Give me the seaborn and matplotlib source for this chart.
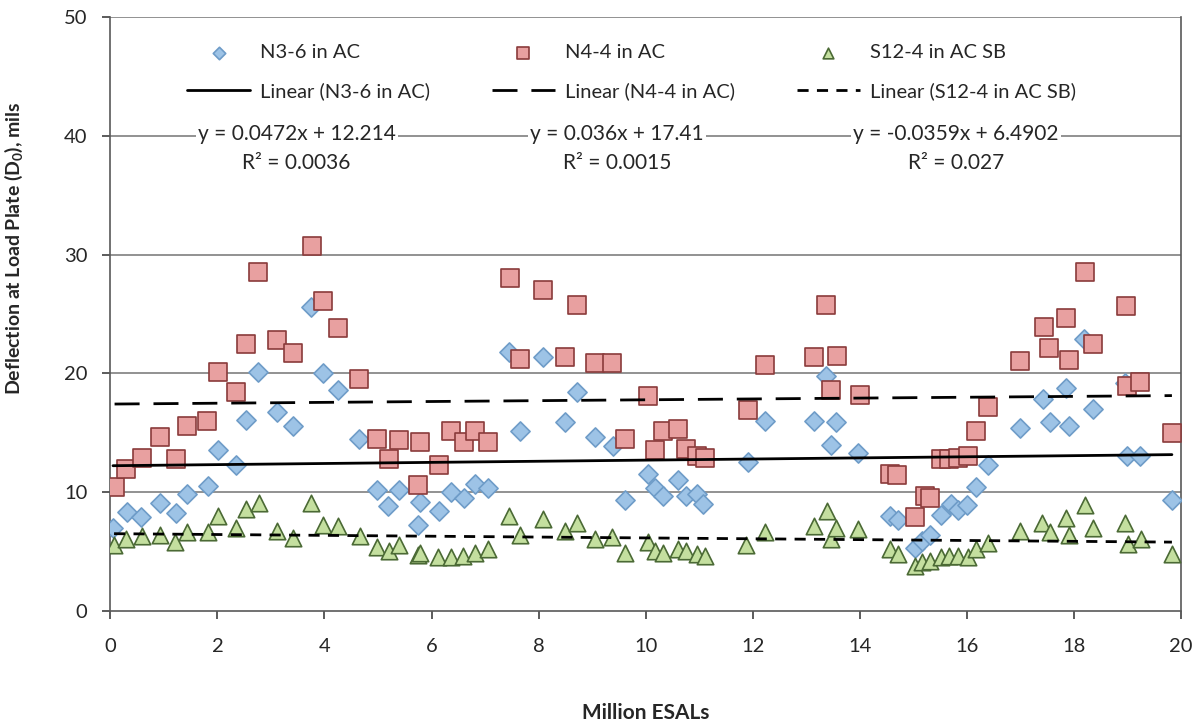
import matplotlib
matplotlib.use("Agg")
import matplotlib.pyplot as plt
import pandas as pd
import seaborn as sns

sns.set_theme(style="white")
plt.rcParams["font.family"] = ["Lato", "DejaVu Sans"]
plt.rcParams["mathtext.default"] = "regular"

# N3-6 in AC (blue diamonds)
n36_x = [0.05, 0.31, 0.58, 0.92, 1.23, 1.43, 1.82, 2.02, 2.35, 2.54, 2.75, 3.12, 3.42, 3.74,
         3.97, 4.26, 4.64, 4.98, 5.19, 5.39, 5.74, 5.78, 6.14, 6.37, 6.60, 6.82, 7.05, 7.44,
         7.66, 8.08, 8.49, 8.71, 9.05, 9.39, 9.61, 10.05, 10.18, 10.33, 10.61, 10.75, 10.95,
         11.08, 11.91, 12.22, 13.14, 13.36, 13.46, 13.56, 13.97, 14.57, 14.71, 15.04, 15.17,
         15.31, 15.51, 15.71, 15.84, 16.00, 16.17, 16.39, 16.99, 17.42, 17.56, 17.86, 17.90,
         18.19, 18.35, 18.95, 19.00, 19.23, 19.83]
n36_y = [7.0, 8.3, 7.9, 9.1, 8.2, 9.8, 10.5, 13.5, 12.3, 16.1, 20.1, 16.7, 15.6, 25.6,
         20.0, 18.6, 14.5, 10.2, 8.8, 10.2, 7.2, 9.2, 8.4, 10.0, 9.5, 10.7, 10.3, 21.8,
         15.1, 21.4, 15.9, 18.4, 14.6, 13.9, 9.3, 11.5, 10.3, 9.7, 11.0, 9.7, 9.8,
         9.0, 12.5, 16.0, 16.0, 19.8, 14.0, 15.9, 13.3, 8.0, 7.6, 5.3, 5.9,
         6.4, 8.1, 9.0, 8.5, 8.9, 10.4, 12.3, 15.4, 17.8, 15.9, 18.8, 15.6,
         22.9, 17.0, 19.2, 13.0, 13.0, 9.3]

# N4-4 in AC (red squares)
n44_x = [0.08, 0.30, 0.59, 0.92, 1.23, 1.43, 1.81, 2.01, 2.35, 2.54, 2.75, 3.12, 3.42, 3.76,
         3.98, 4.26, 4.64, 4.98, 5.21, 5.40, 5.74, 5.78, 6.14, 6.37, 6.60, 6.82, 7.05, 7.46,
         7.66, 8.08, 8.49, 8.72, 9.05, 9.38, 9.61, 10.05, 10.18, 10.33, 10.61, 10.75, 10.95,
         11.10, 11.91, 12.22, 13.14, 13.36, 13.46, 13.58, 14.00, 14.57, 14.69, 15.04, 15.21,
         15.31, 15.51, 15.67, 15.84, 16.02, 16.17, 16.39, 16.99, 17.44, 17.54, 17.85, 17.90,
         18.20, 18.36, 18.97, 19.00, 19.23, 19.83]
n44_y = [10.4, 11.9, 12.9, 14.6, 12.8, 15.6, 16.0, 20.1, 18.4, 22.5, 28.5, 22.8, 21.7, 30.7,
         26.1, 23.8, 19.5, 14.5, 12.8, 14.4, 10.6, 14.2, 12.3, 15.1, 14.2, 15.1, 14.2, 28.0,
         21.2, 27.0, 21.4, 25.8, 20.9, 20.9, 14.5, 18.1, 13.5, 15.1, 15.3, 13.6, 13.0,
         12.9, 16.9, 20.7, 21.4, 25.8, 18.6, 21.5, 18.2, 11.5, 11.4, 7.9, 9.7,
         9.5, 12.8, 12.8, 12.9, 13.0, 15.1, 17.2, 21.0, 23.9, 22.1, 24.7, 21.1,
         28.5, 22.5, 25.7, 18.9, 19.3, 15.0]

# S12-4 in AC SB (green triangles)
s124_x = [0.07, 0.30, 0.59, 0.92, 1.21, 1.43, 1.82, 2.02, 2.35, 2.54, 2.77, 3.12, 3.42, 3.74,
          3.97, 4.26, 4.66, 4.98, 5.21, 5.39, 5.74, 5.78, 6.13, 6.36, 6.59, 6.82, 7.05, 7.44,
          7.66, 8.08, 8.49, 8.71, 9.05, 9.38, 9.61, 10.05, 10.18, 10.33, 10.61, 10.75, 10.95,
          11.10, 11.88, 12.22, 13.14, 13.38, 13.46, 13.56, 13.97, 14.57, 14.71, 15.04, 15.17,
          15.31, 15.51, 15.67, 15.84, 16.02, 16.17, 16.39, 16.99, 17.40, 17.55, 17.85, 17.90,
          18.20, 18.35, 18.95, 19.01, 19.25, 19.83]
s124_y = [5.5, 6.0, 6.3, 6.4, 5.8, 6.6, 6.6, 8.0, 7.0, 8.6, 9.1, 6.7, 6.1, 9.1,
          7.2, 7.1, 6.3, 5.4, 5.0, 5.5, 4.7, 4.85, 4.5, 4.5, 4.6, 4.9, 5.2, 8.0,
          6.4, 7.7, 6.7, 7.4, 6.0, 6.2, 4.85, 5.8, 5.0, 4.9, 5.2, 5.0, 4.8,
          4.6, 5.5, 6.6, 7.1, 8.4, 6.0, 7.0, 6.9, 5.2, 4.8, 3.8, 4.1,
          4.2, 4.5, 4.6, 4.6, 4.5, 5.2, 5.7, 6.7, 7.4, 6.6, 7.8, 6.4,
          8.9, 7.0, 7.4, 5.6, 6.0, 4.8]

# trend line coefficients as printed on the chart
slopes = [0.0472, 0.036, -0.0359]
intercepts = [12.214, 17.41, 6.4902]
equations = ["y = 0.0472x + 12.214", "y = 0.036x + 17.41", "y = -0.0359x + 6.4902"]
r2_labels = ["R² = 0.0036", "R² = 0.0015", "R² = 0.027"]
series_names = ["N3-6 in AC", "N4-4 in AC", "S12-4 in AC SB"]

series = [
    (n36_x, n36_y, "D", "#9dc3e6", "#6e9cc8", 95),
    (n44_x, n44_y, "s", "#e8a0a0", "#8a3b3b", 150),
    (s124_x, s124_y, "^", "#c4df9f", "#4b6a35", 140),
]
line_styles = ["-", (0, (9, 5)), (0, (4, 3))]

fig, ax = plt.subplots(figsize=(11.99, 7.21), dpi=100)
fig.subplots_adjust(left=0.092, right=0.985, top=0.976, bottom=0.153)

for y in [10, 20, 30, 40, 50]:
    ax.axhline(y, color="#7f7f7f", lw=1.2, zorder=0)

for name, (xs, ys, mk, fc, ec, size) in zip(series_names, series):
    df = pd.DataFrame({"x": xs, "y": ys})
    sns.scatterplot(data=df, x="x", y="y", marker=mk, color=fc, edgecolor=ec,
                    linewidth=1.2, s=size, ax=ax, zorder=3, label=name)

for name, xs, m, b, ls in zip(series_names, [n36_x, n44_x, s124_x], slopes, intercepts, line_styles):
    ends = pd.DataFrame({"x": [min(xs), max(xs)]})
    ends["y"] = m * ends["x"] + b
    sns.lineplot(data=ends, x="x", y="y", color="black", lw=2, linestyle=ls,
                 ax=ax, zorder=4, label=f"Linear ({name})")

handles, labels = ax.get_legend_handles_labels()
order = [0, 3, 1, 4, 2, 5]
ax.legend([handles[i] for i in order], [labels[i] for i in order], ncol=3,
          loc="upper left", bbox_to_anchor=(0.055, 0.985), frameon=False,
          fontsize=14.5, columnspacing=3.1, handlelength=3.1, labelspacing=1.05,
          handletextpad=0.5, markerscale=0.65)

eq_x = [3.48, 9.47, 15.8]
for xpos, eq, r2 in zip(eq_x, equations, r2_labels):
    ax.text(xpos, 40.2, eq, ha="center", va="center", fontsize=15, zorder=5,
            bbox=dict(facecolor="white", edgecolor="none", pad=1.5))
    ax.text(xpos, 37.7, r2, ha="center", va="center", fontsize=15, zorder=5)

ax.set_xlim(0, 20)
ax.set_ylim(0, 50)
ax.set_xticks(range(0, 21, 2))
ax.set_yticks(range(0, 51, 10))
ax.tick_params(axis="both", labelsize=14.5, colors="#404040", length=5.5, width=1.2,
               direction="out", bottom=True, left=True, labelcolor="#262626")
ax.tick_params(axis="x", pad=14)
ax.tick_params(axis="y", pad=11)
for side in ["left", "right", "bottom"]:
    ax.spines[side].set_color("#595959")
    ax.spines[side].set_linewidth(1.2)
ax.spines["top"].set_visible(False)

ax.set_xlabel("Million ESALs", fontsize=15, fontweight="bold")
ax.xaxis.set_label_coords(0.5, -0.155)
ax.set_ylabel("Deflection at Load Plate (D$_0$), mils", fontsize=14, fontweight="bold")
ax.yaxis.set_label_coords(-0.080, 0.611)

fig.savefig("out.png", dpi=100)
